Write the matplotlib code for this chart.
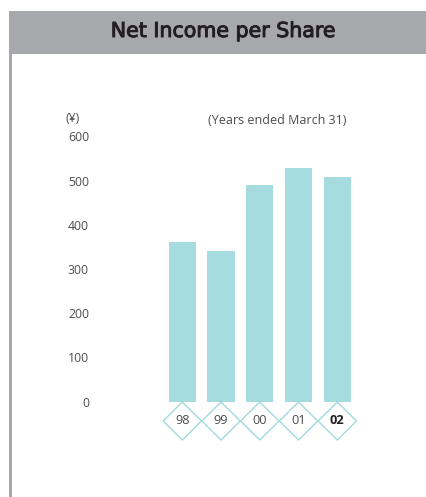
import matplotlib
matplotlib.use("Agg")
import matplotlib.pyplot as plt
import matplotlib.patheffects as pe
from matplotlib.patches import Polygon, Rectangle

# Net income per share, fiscal years ended March 31 (yen)
years = ["98", "99", "00", "01", "02"]
net_income_per_share = [361, 341, 490, 528, 508]
y_ticks = [0, 100, 200, 300, 400, 500, 600]

W, H = 427, 497
DPI = 100
fig = plt.figure(figsize=(W / DPI, H / DPI), dpi=DPI)
fig.patch.set_facecolor("white")

BAR_COLOR = "#a6dbdf"
FRAME_GRAY = "#a7a8ac"
TEXT_GRAY = "#4d4d4d"


def fx(px):
    return px / W


def fy(py):
    return 1 - py / H


# Title band and left rule
fig.patches.append(Rectangle((fx(9), fy(53.5)), 1 - fx(9), fy(11) - fy(53.5),
                             transform=fig.transFigure, facecolor=FRAME_GRAY,
                             edgecolor="none", zorder=0))
fig.patches.append(Rectangle((fx(9), 0), fx(2.6), fy(53.5),
                             transform=fig.transFigure, facecolor=FRAME_GRAY,
                             edgecolor="none", zorder=0))
fig.text(fx(223), fy(31), "Net Income per Share", ha="center", va="center",
         fontsize=14.8, color="#231f20", family="DejaVu Sans",
         path_effects=[pe.withStroke(linewidth=0.7, foreground="#231f20")])

# Plot area in pixel terms
ax_l, ax_r, ax_t, ax_b = 100, 420, 100, 460
ax = fig.add_axes([fx(ax_l), fy(ax_b), fx(ax_r - ax_l), fy(ax_t) - fy(ax_b)])
ax.set_facecolor("none")

x0, step = 182.3, 38.75
zero_py, px_per_unit = 401.7, 0.4423
ax.set_xlim((ax_l - x0) / step, (ax_r - x0) / step)
ax.set_ylim((zero_py - ax_b) / px_per_unit, (zero_py - ax_t) / px_per_unit)

xs = list(range(len(years)))
ax.bar(xs, net_income_per_share, width=0.70, color=BAR_COLOR, edgecolor="none")

for s in ax.spines.values():
    s.set_visible(False)
ax.set_xticks([])
ax.set_yticks(y_ticks)
ax.set_yticklabels([str(v) for v in y_ticks], family="Open Sans", fontsize=8.8,
                   color=TEXT_GRAY)
ax.tick_params(axis="y", length=0, pad=8)

# Diamond year markers under the bars
half = 19.2 / step
half_y = 19.0 / px_per_unit
cy = (zero_py - 421) / px_per_unit
for i, yr in enumerate(years):
    poly = Polygon([(i - half, cy), (i, cy + half_y), (i + half, cy), (i, cy - half_y)],
                   closed=True, facecolor="white", edgecolor="#a2dadd", linewidth=1.0,
                   clip_on=False, zorder=3)
    ax.add_patch(poly)
    last = i == len(years) - 1
    ax.text(i, cy, yr, ha="center", va="center", fontsize=9.2, family="Open Sans",
            color="#231f20" if last else TEXT_GRAY,
            fontweight="bold" if last else "normal", zorder=4, clip_on=False)

fig.text(fx(73), fy(119), "(¥)", ha="center", va="center", fontsize=8.8,
         family="Open Sans", color=TEXT_GRAY)
fig.text(fx(277), fy(120), "(Years ended March 31)", ha="center", va="center",
         fontsize=9.0, family="Open Sans", color=TEXT_GRAY)

fig.savefig("out.png", dpi=DPI, facecolor="white")
